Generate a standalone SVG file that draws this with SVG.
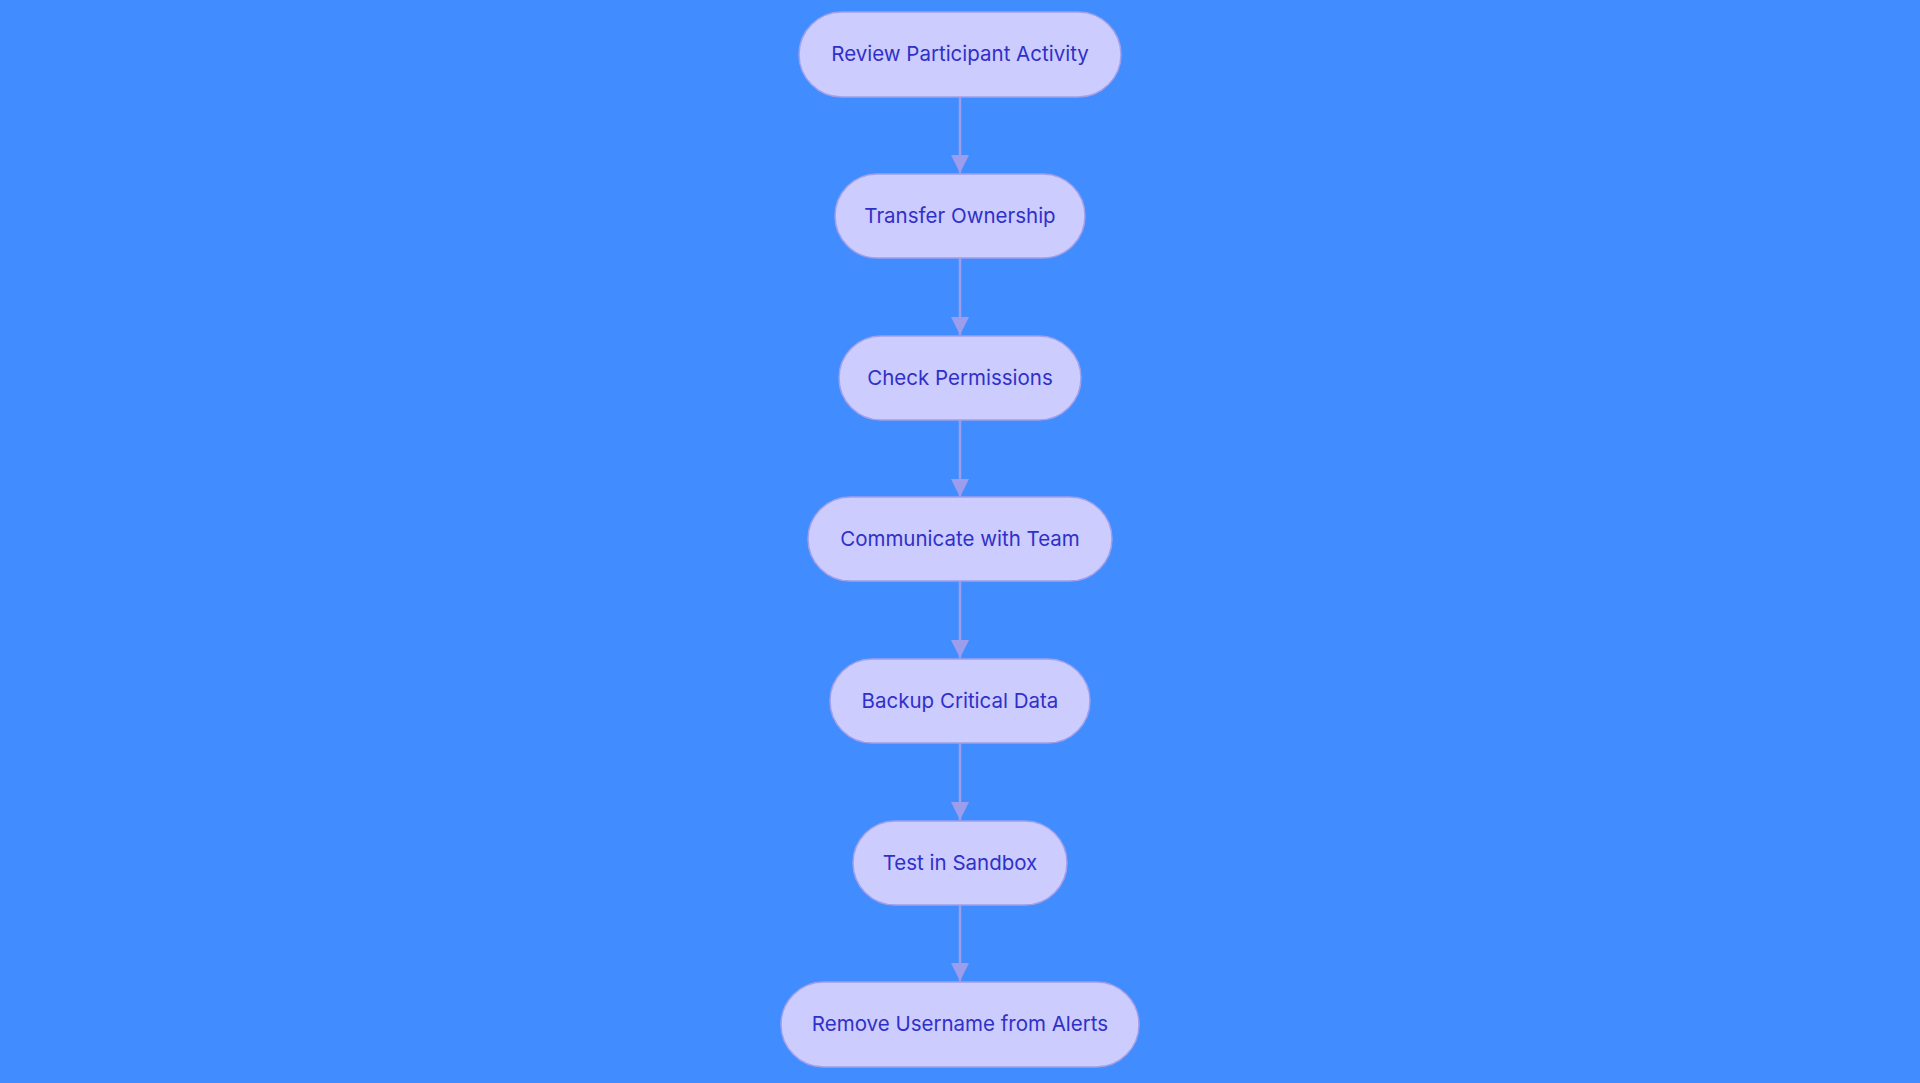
<svg xmlns="http://www.w3.org/2000/svg" width="1920" height="1083" viewBox="0 0 1920 1083">
<defs>
<style>
.node rect{fill:#ccccff;stroke:#9f9fea;stroke-width:1.5}
.node text{font-family:Inter,"Noto Sans","Liberation Sans",sans-serif;font-size:20.5px;fill:#3030c8;text-anchor:middle;dominant-baseline:central}
.edge{stroke:#9d9ded;stroke-width:2.5;fill:none;marker-end:url(#arr)}
</style>
<marker id="arr" viewBox="0 0 18 18" refX="18" refY="9" markerWidth="18" markerHeight="18" markerUnits="userSpaceOnUse" orient="auto">
<path d="M0,0 L18,9 L0,18 z" fill="#9d9ded"/>
</marker>
</defs>
<rect width="1920" height="1083" fill="#418cff"/>
<g id="connectors">
<line class="edge" x1="960" y1="97" x2="960" y2="173"/>
<line class="edge" x1="960" y1="258" x2="960" y2="335"/>
<line class="edge" x1="960" y1="420" x2="960" y2="497"/>
<line class="edge" x1="960" y1="581" x2="960" y2="658"/>
<line class="edge" x1="960" y1="743" x2="960" y2="820"/>
<line class="edge" x1="960" y1="905" x2="960" y2="981"/>
</g>
<g id="n1" class="node"><rect x="799" y="12" width="322" height="85" rx="42.5"/><text x="960" y="53">Review Participant Activity</text></g>
<g id="n2" class="node"><rect x="835" y="174" width="250" height="84" rx="42"/><text x="960" y="215">Transfer Ownership</text></g>
<g id="n3" class="node"><rect x="839" y="336" width="242" height="84" rx="42"/><text x="960" y="377">Check Permissions</text></g>
<g id="n4" class="node"><rect x="808" y="497" width="304" height="84" rx="42"/><text x="960" y="538">Communicate with Team</text></g>
<g id="n5" class="node"><rect x="830" y="659" width="260" height="84" rx="42"/><text x="960" y="700">Backup Critical Data</text></g>
<g id="n6" class="node"><rect x="853" y="821" width="214" height="84" rx="42"/><text x="960" y="862">Test in Sandbox</text></g>
<g id="n7" class="node"><rect x="781" y="982" width="358" height="85" rx="42.5"/><text x="960" y="1023">Remove Username from Alerts</text></g>
</svg>
